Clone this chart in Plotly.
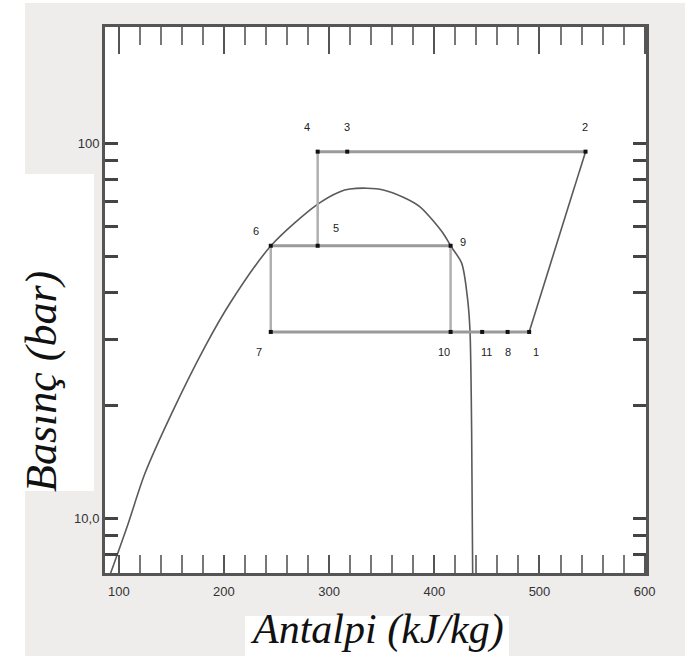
import math
import plotly.graph_objects as go

# Saturation dome of the refrigerant (enthalpy in kJ/kg, pressure in bar)
dome_h = [91.6, 108.8, 124.9, 150.3, 182.0, 205.7, 244.7, 288.2, 310.3, 319.8,
          335.7, 351.5, 370.5, 386.4, 408.5, 415.5, 426.0, 431.4, 433.9, 435.5, 436.5]
dome_p = [7.06, 9.66, 13.18, 19.05, 28.69, 37.44, 53.3, 68.5, 74.3, 75.5,
          75.9, 75.1, 71.8, 67.7, 57.5, 53.3, 47.9, 39.0, 31.8, 17.2, 7.06]

# Cycle state points
state_name = ["1", "2", "3", "4", "5", "6", "7", "8", "9", "10", "11"]
state_h = [490.2, 543.8, 317.2, 289.1, 289.1, 244.5, 244.5, 469.7, 415.5, 415.5, 445.5]
state_p = [31.4, 95.0, 95.0, 95.0, 53.3, 53.3, 31.4, 31.4, 53.3, 31.4, 31.4]

# Label offsets of each state number (pixels, right / up)
label_dx = [7, -1, 0, -11, 18, -15, -12, 0, 12, -7, 4]
label_dy = [-20, 25, 25, 25, 18, 15, -20, -20, 4, -20, -20]

# Axis ticks
x_tick_vals = [100, 200, 300, 400, 500, 600]
y_tick_vals = [8, 9, 10, 20, 30, 40, 50, 60, 70, 80, 90, 100]
y_tick_text = ["", "", "10,0", "", "", "", "", "", "", "", "", "100"]

X_RANGE = [86.88, 601.3]
Y_RANGE = [0.8541, 2.3101]

idx = {n: i for i, n in enumerate(state_name)}


def path(names):
    return ([state_h[idx[n]] for n in names], [state_p[idx[n]] for n in names])


fig = go.Figure()

fig.add_trace(go.Scatter(
    x=dome_h, y=dome_p, mode="lines",
    line=dict(color="#5a5a5a", width=1.6, shape="spline", smoothing=0.8),
    hoverinfo="skip", showlegend=False))

# isobars and vertical legs of the cycle
grey_legs = [["4", "3", "2"], ["6", "5", "9"], ["7", "10", "11", "8", "1"],
             ["4", "5"], ["6", "7"], ["9", "10"]]
for leg in grey_legs:
    hx, py = path(leg)
    horiz = py[0] == py[-1]
    fig.add_trace(go.Scatter(
        x=hx, y=py, mode="lines",
        line=dict(color="#9a9a9a" if horiz else "#b0b0b0", width=3 if horiz else 2.5),
        hoverinfo="skip", showlegend=False))

# compression line 1-2
hx, py = path(["1", "2"])
fig.add_trace(go.Scatter(x=hx, y=py, mode="lines",
                         line=dict(color="#5a5a5a", width=1.6),
                         hoverinfo="skip", showlegend=False))

fig.add_trace(go.Scatter(
    x=state_h, y=state_p, mode="markers",
    marker=dict(symbol="square", size=4, color="#111111"),
    hoverinfo="skip", showlegend=False))

# top axis carries the longer major ticks
fig.add_trace(go.Scatter(x=[], y=[], xaxis="x2", showlegend=False, hoverinfo="skip"))

# annotations on a log axis take log10 of the value
for n, h, p, dx, dy in zip(state_name, state_h, state_p, label_dx, label_dy):
    fig.add_annotation(x=h, y=math.log10(p), text=n, showarrow=False,
                       xshift=dx, yshift=dy, xanchor="center", yanchor="middle",
                       font=dict(family="Liberation Sans", size=11, color="#222222"))

W, H = 685, 656
ML, MR, MT, MB = 105, 39, 27, 83
PW, PH = W - ML - MR, H - MT - MB


def px_x(v):
    return (v - ML) / PW


def px_y(v):
    return (H - MB - v) / PH


grey = "#efecec"
shapes = [
    dict(type="rect", xref="paper", yref="paper", x0=px_x(0), x1=px_x(25),
         y0=px_y(H), y1=px_y(0), fillcolor="white", line_width=0, layer="below"),
    dict(type="rect", xref="paper", yref="paper", x0=px_x(0), x1=px_x(W),
         y0=px_y(3), y1=px_y(0), fillcolor="white", line_width=0, layer="below"),
    dict(type="rect", xref="paper", yref="paper", x0=px_x(25), x1=px_x(94),
         y0=px_y(491), y1=px_y(174), fillcolor="white", line_width=0, layer="below"),
    dict(type="rect", xref="paper", yref="paper", x0=px_x(245), x1=px_x(509),
         y0=px_y(H), y1=px_y(616), fillcolor="white", line_width=0, layer="below"),
]

fig.add_annotation(xref="paper", yref="paper", x=px_x(41), y=px_y(382),
                   xanchor="center", yanchor="middle",
                   text="Basınç (bar)", textangle=-90, showarrow=False,
                   font=dict(family="Liberation Serif", size=44, style="italic", color="#111111"))
fig.add_annotation(xref="paper", yref="paper", x=px_x(377), y=px_y(H - 1),
                   xanchor="center", yanchor="bottom",
                   text="Antalpi (kJ/kg)", showarrow=False,
                   font=dict(family="Liberation Serif", size=42, style="italic", color="#111111"))

fig.update_layout(
    width=W, height=H,
    margin=dict(l=ML, r=MR, t=MT, b=MB, pad=0),
    paper_bgcolor=grey, plot_bgcolor="white",
    shapes=shapes,
    xaxis=dict(range=X_RANGE, showgrid=False, zeroline=False,
               showline=True, linecolor="#555555", linewidth=3, mirror=True,
               tickmode="array", tickvals=x_tick_vals, ticks="inside", ticklen=18,
               tickwidth=2, tickcolor="#555555", ticklabelstandoff=4,
               minor=dict(dtick=20, tick0=100, ticks="inside", ticklen=18,
                          tickwidth=2, tickcolor="#777777"),
               tickfont=dict(family="Liberation Sans", size=13, color="#333333")),
    xaxis2=dict(range=X_RANGE, overlaying="x", side="top", showgrid=False,
                zeroline=False, showline=False, showticklabels=False,
                tickmode="array", tickvals=x_tick_vals, ticks="inside", ticklen=27,
                tickwidth=2, tickcolor="#555555",
                minor=dict(dtick=20, tick0=100, ticks="inside", ticklen=18,
                           tickwidth=2, tickcolor="#777777")),
    yaxis=dict(type="log", range=Y_RANGE, showgrid=False, zeroline=False,
               showline=True, linecolor="#555555", linewidth=3, mirror="ticks",
               tickmode="array", tickvals=y_tick_vals, ticktext=y_tick_text,
               ticks="inside", ticklen=13, tickwidth=2.5, tickcolor="#444444",
               tickfont=dict(family="Liberation Sans", size=13, color="#333333")),
)

fig.write_html("out.html")
